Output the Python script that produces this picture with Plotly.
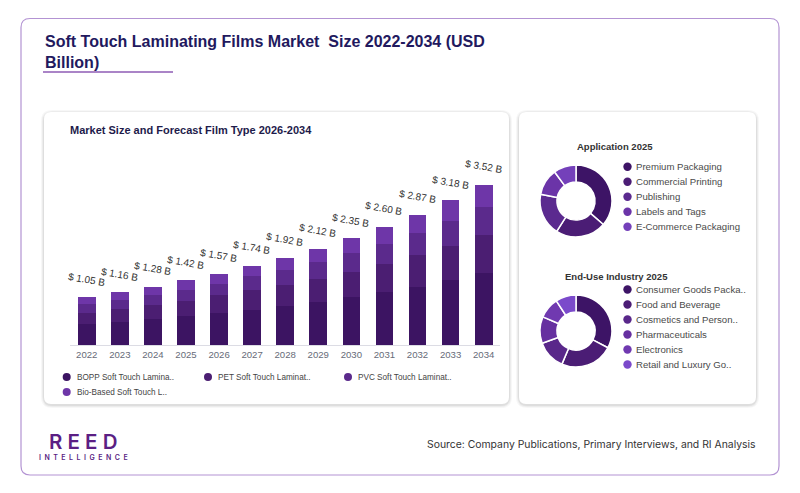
import plotly.graph_objects as go

W, H = 800, 493

years = ["2022", "2023", "2024", "2025", "2026", "2027", "2028", "2029", "2030", "2031", "2032", "2033", "2034"]
bopp = [0.47, 0.51, 0.57, 0.63, 0.70, 0.78, 0.86, 0.95, 1.05, 1.16, 1.28, 1.43, 1.58]
pet = [0.24, 0.29, 0.31, 0.34, 0.39, 0.42, 0.47, 0.51, 0.56, 0.62, 0.70, 0.75, 0.84]
pvc = [0.19, 0.20, 0.23, 0.24, 0.26, 0.31, 0.33, 0.37, 0.42, 0.45, 0.49, 0.55, 0.61]
bio = [0.15, 0.16, 0.17, 0.21, 0.22, 0.23, 0.26, 0.29, 0.32, 0.37, 0.40, 0.45, 0.49]
totals = [1.05, 1.16, 1.28, 1.42, 1.57, 1.74, 1.92, 2.12, 2.35, 2.60, 2.87, 3.18, 3.52]
film_names = ["BOPP Soft Touch Lamina..", "PET Soft Touch Laminat..", "PVC Soft Touch Laminat..", "Bio-Based Soft Touch L.."]
film_colors = ["#3c1462", "#4b1e72", "#5b2a8c", "#6e36a8"]

app_labels = ["Premium Packaging", "Commercial Printing", "Publishing", "Labels and Tags", "E-Commerce Packaging"]
app_values = [36.3, 22.7, 19.0, 11.9, 10.1]
app_colors = ["#3d1466", "#4b1d75", "#5b2a8f", "#6b34a8", "#7440ba"]

end_labels = ["Consumer Goods Packa..", "Food and Beverage", "Cosmetics and Person..", "Pharmaceuticals", "Electronics", "Retail and Luxury Go.."]
end_values = [32.7, 23.7, 13.1, 11.9, 9.4, 9.2]
end_colors = ["#3d1466", "#4b1d75", "#59278a", "#6630a0", "#7039b0", "#7b4acb"]


def px(x):
    return x / W


def py(y):
    return 1 - y / H


def rrect(x0, y0, x1, y1, r):
    rx, ry = r / W, r / H
    X0, X1 = px(x0), px(x1)
    Y0, Y1 = py(y1), py(y0)
    return (f"M {X0+rx},{Y0} L {X1-rx},{Y0} Q {X1},{Y0} {X1},{Y0+ry} "
            f"L {X1},{Y1-ry} Q {X1},{Y1} {X1-rx},{Y1} L {X0+rx},{Y1} "
            f"Q {X0},{Y1} {X0},{Y1-ry} L {X0},{Y0+ry} Q {X0},{Y0} {X0+rx},{Y0} Z")


fig = go.Figure()

series = [bopp, pet, pvc, bio]
for name, vals, col in zip(film_names, series, film_colors):
    fig.add_trace(go.Bar(x=years, y=vals, name=name, marker=dict(color=col, line=dict(width=0)),
                         hoverinfo="skip", showlegend=False))

fig.add_trace(go.Pie(labels=app_labels, values=app_values, sort=False, direction="clockwise", rotation=0,
                     hole=0.53, marker=dict(colors=app_colors, line=dict(color="white", width=1.5)),
                     textinfo="none", hoverinfo="skip", showlegend=False,
                     domain=dict(x=[px(540), px(612)], y=[py(237), py(165)])))
fig.add_trace(go.Pie(labels=end_labels, values=end_values, sort=False, direction="clockwise", rotation=0,
                     hole=0.53, marker=dict(colors=end_colors, line=dict(color="white", width=1.5)),
                     textinfo="none", hoverinfo="skip", showlegend=False,
                     domain=dict(x=[px(540), px(612)], y=[py(367), py(295)])))

shapes = []
shapes.append(dict(type="path", path=rrect(21, 18.5, 779, 475, 9), xref="paper", yref="paper",
                   line=dict(color="#b393d3", width=1.2), fillcolor="white", layer="below"))
for (x0, y0, x1, y1) in [(44, 112, 509, 404), (519, 112, 756, 404)]:
    for i, op in enumerate([0.03, 0.045, 0.06]):
        d = 3 - i
        shapes.append(dict(type="path", path=rrect(x0 - d, y0 - d + 1, x1 + d, y1 + d + 1, 8 + d),
                           xref="paper", yref="paper", line=dict(width=0),
                           fillcolor=f"rgba(0,0,0,{op})", layer="below"))
    shapes.append(dict(type="path", path=rrect(x0, y0, x1, y1, 7), xref="paper", yref="paper",
                       line=dict(width=0), fillcolor="white", layer="below"))
shapes.append(dict(type="line", x0=px(43), x1=px(173), y0=py(72), y1=py(72), xref="paper", yref="paper",
                   line=dict(color="#8e5bb5", width=1.5)))


def dot(cx, cy, r, col):
    return dict(type="circle", xref="paper", yref="paper", x0=px(cx - r), x1=px(cx + r),
                y0=py(cy + r), y1=py(cy - r), fillcolor=col, line=dict(width=0))


annotations = []
bar_leg_pos = [(66.7, 377), (208, 377), (348, 377), (66.7, 392)]
for (cx, cy), name, col in zip(bar_leg_pos, film_names, film_colors):
    shapes.append(dot(cx, cy, 4, col))
    annotations.append(dict(x=px(cx + 8), y=py(cy), xref="paper", yref="paper", text=name, showarrow=False,
                            xanchor="left", yanchor="middle", font=dict(family="Liberation Sans", size=8.2, color="#444444")))

for i, (name, col) in enumerate(zip(app_labels, app_colors)):
    cy = 166.7 + 15 * i
    shapes.append(dot(627.5, cy, 4.2, col))
    annotations.append(dict(x=px(633.5), y=py(cy), xref="paper", yref="paper", text=name, showarrow=False,
                            xanchor="left", yanchor="middle", font=dict(family="Liberation Sans", size=9.6, color="#4a4a4a")))
for i, (name, col) in enumerate(zip(end_labels, end_colors)):
    cy = 289.5 + 15 * i
    shapes.append(dot(627.5, cy, 4.2, col))
    annotations.append(dict(x=px(633.5), y=py(cy), xref="paper", yref="paper", text=name, showarrow=False,
                            xanchor="left", yanchor="middle", font=dict(family="Liberation Sans", size=9.6, color="#4a4a4a")))

for i, t in enumerate(totals):
    annotations.append(dict(x=i, y=t, xref="x", yref="y", text=f"$ {t:.2f} B", showarrow=False,
                            yshift=18, textangle=10, font=dict(family="Liberation Sans", size=10, color="#333333")))

annotations += [
    dict(x=px(43), y=py(52.5), xref="paper", yref="paper", showarrow=False, xanchor="left", yanchor="middle",
         align="left", text="<b>Soft Touch Laminating Films Market  Size 2022-2034 (USD<br>Billion)</b>",
         font=dict(family="Liberation Sans", size=16, color="#22195e")),
    dict(x=px(68), y=py(130), xref="paper", yref="paper", showarrow=False, xanchor="left", yanchor="middle",
         text="<b>Market Size and Forecast Film Type 2026-2034</b>",
         font=dict(family="Liberation Sans", size=11, color="#1e1b4b")),
    dict(x=px(615), y=py(146), xref="paper", yref="paper", showarrow=False, xanchor="center", yanchor="middle",
         text="<b>Application 2025</b>", font=dict(family="Liberation Sans", size=9.5, color="#333333")),
    dict(x=px(616), y=py(276), xref="paper", yref="paper", showarrow=False, xanchor="center", yanchor="middle",
         text="<b>End-Use Industry 2025</b>", font=dict(family="Liberation Sans", size=9.5, color="#333333")),
    dict(x=px(758), y=py(444), xref="paper", yref="paper", showarrow=False, xanchor="right", yanchor="middle",
         text="Source: Company Publications, Primary Interviews, and RI Analysis",
         font=dict(family="Inter", size=10.4, color="#333333")),
    dict(x=px(83), y=py(441), xref="paper", yref="paper", showarrow=False, xanchor="center", yanchor="middle",
         text="R E E D", font=dict(family="Inter", size=20.5, color="#5b1f84", weight=600)),
    dict(x=px(83), y=py(457), xref="paper", yref="paper", showarrow=False, xanchor="center", yanchor="middle",
         text="\u2002".join("INTELLIGENCE"), font=dict(family="Inter", size=7, color="#5b1f84", weight=600)),
]

fig.update_layout(
    width=W, height=H, margin=dict(l=0, r=0, t=0, b=0, autoexpand=False),
    paper_bgcolor="white", plot_bgcolor="rgba(0,0,0,0)",
    barmode="stack", bargap=0.465,
    shapes=shapes, annotations=annotations, showlegend=False,
    xaxis=dict(domain=[px(70.2), px(500.2)], type="category", range=[-0.5, 12.5], showgrid=False, zeroline=False,
               showline=True, linecolor="#dcdce4", linewidth=1, ticks="",
               tickfont=dict(family="Liberation Sans", size=9.6, color="#666b78"), fixedrange=True),
    yaxis=dict(domain=[py(345), py(150)], range=[0, 4.29], visible=False, fixedrange=True),
)

fig.write_html("out.html", config={"displayModeBar": False, "staticPlot": True},
               post_script="document.body.style.margin='0px';")
